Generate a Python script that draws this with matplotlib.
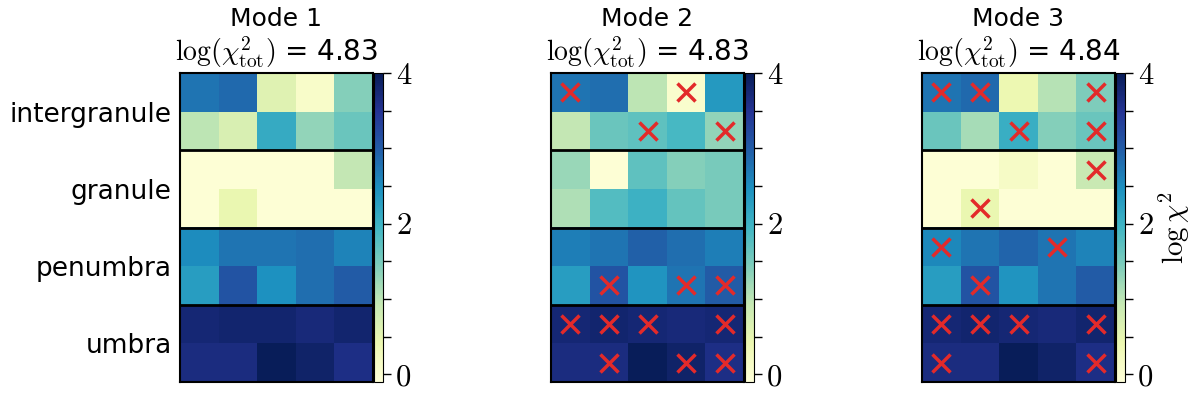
import numpy as np
import matplotlib
matplotlib.use("Agg")
import matplotlib.pyplot as plt
from matplotlib.ticker import MultipleLocator

plt.rcParams['mathtext.fontset'] = 'cm'

# region labels (one per pair of rows)
regions = ["intergranule", "granule", "penumbra", "umbra"]
modes = ["Mode 1", "Mode 2", "Mode 3"]
chi_tot = [4.83, 4.83, 4.84]

# log chi^2 per cell, 8 rows x 5 columns
mode1 = [[2.75, 2.85, 0.6, 0.1, 1.4],
         [1.0, 0.7, 2.1, 1.3, 1.6],
         [-0.05, -0.05, -0.05, -0.05, 0.95],
         [-0.05, 0.45, -0.05, -0.05, -0.05],
         [2.5, 2.75, 2.75, 2.8, 2.6],
         [2.3, 3.1, 2.45, 2.8, 3.0],
         [3.75, 3.8, 3.8, 3.7, 3.8],
         [3.65, 3.65, 3.97, 3.85, 3.6]]
mode2 = [[2.75, 2.8, 1.0, 0.05, 2.35],
         [0.95, 1.6, 1.7, 1.9, 1.3],
         [1.25, -0.05, 1.7, 1.4, 1.5],
         [1.1, 1.8, 2.0, 1.65, 1.5],
         [2.65, 2.75, 2.95, 2.8, 2.65],
         [2.3, 3.1, 2.4, 2.75, 3.0],
         [3.75, 3.8, 3.75, 3.7, 3.75],
         [3.65, 3.65, 3.97, 3.85, 3.6]]
mode3 = [[2.75, 2.85, 0.4, 1.05, 1.45],
         [1.6, 1.15, 2.05, 1.4, 1.6],
         [-0.05, -0.05, 0.15, -0.05, 0.9],
         [-0.05, 0.45, -0.05, -0.05, -0.05],
         [2.55, 2.75, 2.9, 2.75, 2.6],
         [2.3, 3.1, 2.4, 2.75, 3.0],
         [3.75, 3.8, 3.75, 3.7, 3.8],
         [3.65, 3.65, 3.97, 3.85, 3.6]]

# flagged cells (row, col)
flags1 = []
flags2 = [(0, 0), (0, 3), (1, 2), (1, 4), (5, 1), (5, 3), (5, 4),
          (6, 0), (6, 1), (6, 2), (6, 4), (7, 1), (7, 3), (7, 4)]
flags3 = [(0, 0), (0, 1), (0, 4), (1, 2), (1, 4), (2, 4), (3, 1),
          (4, 0), (4, 3), (5, 1), (6, 0), (6, 1), (6, 2), (6, 4),
          (7, 0), (7, 4)]

data = [mode1, mode2, mode3]
flags = [flags1, flags2, flags3]

fig = plt.figure(figsize=(12, 3.94), dpi=100)
lefts = [180, 551, 922]
W, H = 1200, 394
for i in range(3):
    ax = fig.add_axes([lefts[i] / W, 12 / H, 193 / W, 309 / H])
    cax = fig.add_axes([(lefts[i] + 194) / W, 12 / H, 9 / W, 309 / H])
    im = ax.imshow(np.array(data[i]), cmap='YlGnBu', vmin=-0.1, vmax=4,
                   aspect='auto', interpolation='nearest')
    for y in [1.5, 3.5, 5.5]:
        ax.axhline(y, color='black', lw=2)
    if flags[i]:
        r, c = zip(*flags[i])
        ax.plot(c, r, 'x', color='#e32a2a', ms=13, mew=2.5)
    ax.set_xticks([])
    if i == 0:
        ax.set_yticks([0.5, 2.5, 4.5, 6.5])
        ax.set_yticklabels(regions, fontsize=19)
        ax.tick_params(axis='y', length=0, pad=6)
    else:
        ax.set_yticks([])
    for s in ax.spines.values():
        s.set_linewidth(1.5)
    ax.text(0.5, 1.0 + 42 / 309, modes[i], transform=ax.transAxes,
            ha='center', va='bottom', fontsize=18)
    ax.text(0.5, 1.0 + 3 / 309,
            r"$\log(\chi^2_{\rm tot})$" + " = %.2f" % chi_tot[i],
            transform=ax.transAxes, ha='center', va='bottom', fontsize=20)
    cb = fig.colorbar(im, cax=cax, ticks=[0, 2, 4])
    cb.ax.yaxis.set_minor_locator(MultipleLocator(0.5))
    cb.ax.set_yticklabels(["0", "2", "4"], fontsize=22, fontfamily='cmr10')
    cb.ax.tick_params(which='major', length=6, width=1)
    cb.ax.tick_params(which='minor', length=6, width=1)
    if i == 2:
        cb.set_label(r"$\log\chi^2$", fontsize=21, labelpad=2)

fig.savefig("out.png", dpi=100)
